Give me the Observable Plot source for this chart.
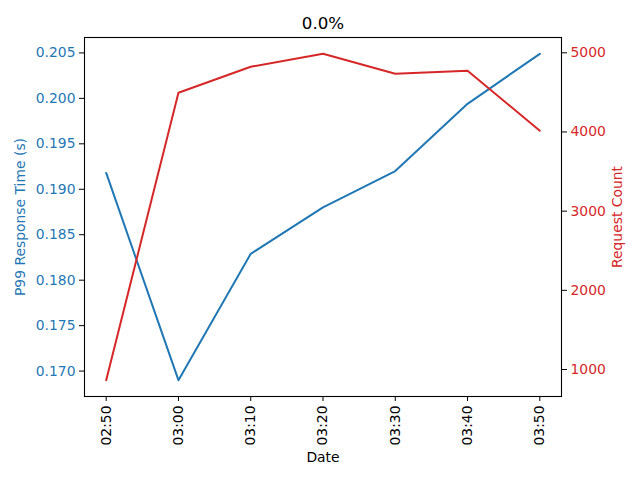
<!DOCTYPE html>
<html><head><meta charset="utf-8">
<script src="https://cdn.jsdelivr.net/npm/d3@7"></script>
<script src="https://cdn.jsdelivr.net/npm/@observablehq/plot@0.6"></script>
<style>body{margin:0;background:#fff} svg{display:block}</style>
</head><body><div id="chart"></div><script>
const times = ["02:50","03:00","03:10","03:20","03:30","03:40","03:50"];
const p99 = [0.1918, 0.1690, 0.1829, 0.1880, 0.1920, 0.1994, 0.2049];
const counts = [865, 4496, 4823, 4987, 4735, 4773, 4016];
const leftTicks = [0.170, 0.175, 0.180, 0.185, 0.190, 0.195, 0.200, 0.205];
const rightTicks = [1000, 2000, 3000, 4000, 5000];
const title = "0.0%";
const xLabel = "Date";
const leftLabel = "P99 Response Time (s)";
const rightLabel = "Request Count";

const blue = "#1f77b4", red = "#d62728";
const parse = d3.utcParse("%H:%M");
const dates = times.map(parse);
const data = times.map((t, i) => ({date: dates[i], p99: p99[i], count: counts[i]}));

function pad(ext, f = 0.05) { const r = ext[1] - ext[0]; return [ext[0] - r * f, ext[1] + r * f]; }
const yDomain = pad(d3.extent(p99));
const rDomain = pad(d3.extent(counts));
const xExt = d3.extent(dates);
const xDomain = [new Date(+xExt[0] - (xExt[1] - xExt[0]) * 0.05), new Date(+xExt[1] + (xExt[1] - xExt[0]) * 0.05)];
const rscale = d3.scaleLinear().domain(rDomain).range(yDomain);

const plot = Plot.plot({
  width: 640, height: 480,
  marginLeft: 84, marginRight: 79, marginTop: 37, marginBottom: 84,
  style: {fontFamily: "DejaVu Sans", fontSize: "13.9px", background: "white", color: "black"},
  x: {type: "utc", domain: xDomain},
  y: {domain: yDomain},
  marks: [
    Plot.line(data, {x: "date", y: "p99", stroke: blue, strokeWidth: 2}),
    Plot.line(data, {x: "date", y: d => rscale(d.count), stroke: red, strokeWidth: 2}),
    Plot.frame({stroke: "black", strokeWidth: 1.1}),
    Plot.axisY({ticks: leftTicks, tickFormat: d3.format(".3f"), tickSize: 5, tickPadding: 4, stroke: "black", fill: blue, label: null}),
    Plot.axisY({anchor: "right", ticks: rightTicks.map(rscale), tickFormat: d => String(Math.round(rscale.invert(d))), tickSize: 5, tickPadding: 4, stroke: "black", fill: red, label: null}),
    Plot.axisX({ticks: dates, tickFormat: d3.utcFormat("%H:%M"), tickRotate: -90, tickSize: 5, tickPadding: 4, stroke: "black", fill: "black", label: null}),
    Plot.text([title], {frameAnchor: "top", dy: -14, lineAnchor: "middle", fontSize: 16.7, fill: "black"}),
    Plot.text([xLabel], {frameAnchor: "bottom", dy: 61, lineAnchor: "middle", fill: "black"}),
    Plot.text([leftLabel], {frameAnchor: "left", dx: -64, rotate: -90, textAnchor: "middle", lineAnchor: "middle", fill: blue}),
    Plot.text([rightLabel], {frameAnchor: "right", dx: 56, rotate: -90, textAnchor: "middle", lineAnchor: "middle", fill: red})
  ]
});
document.getElementById("chart").append(plot);
</script></body></html>
